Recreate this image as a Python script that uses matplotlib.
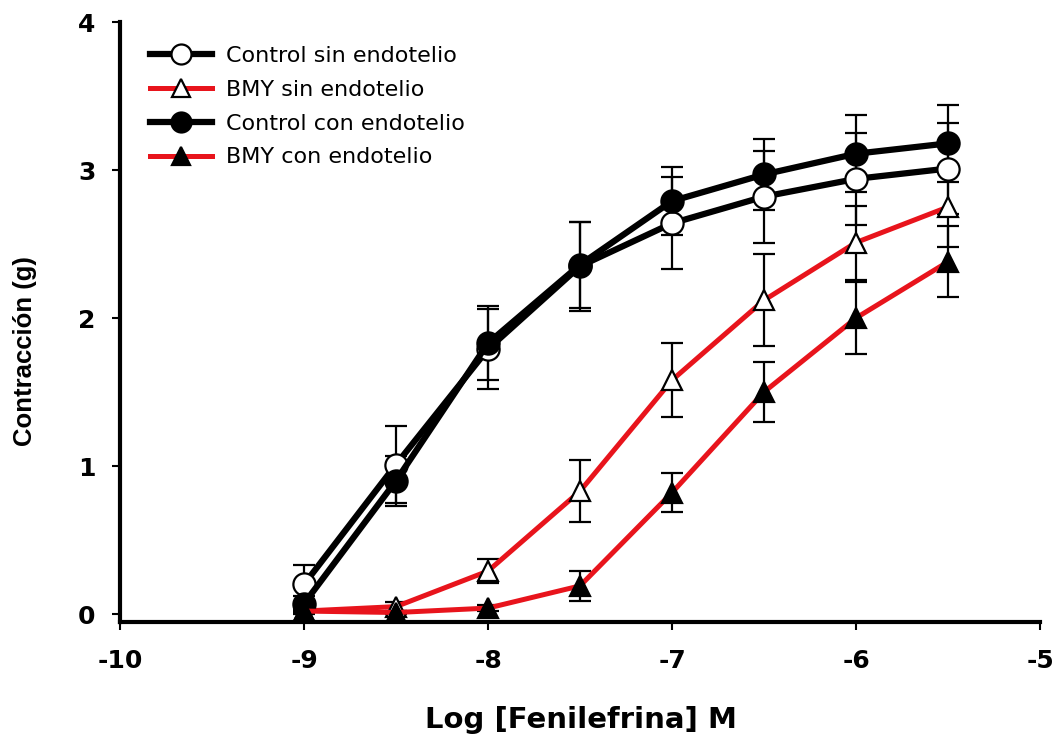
import matplotlib
matplotlib.use("Agg")
import matplotlib.pyplot as plt

plt.rcParams['font.family'] = ['DejaVu Sans']
plt.rcParams['axes.unicode_minus'] = False

# concentraciones (log M)
log_fe = [-9, -8.5, -8, -7.5, -7, -6.5, -6, -5.5]

# contracción media (g) y error estándar
ctrl_sin = [0.20, 1.01, 1.79, 2.35, 2.64, 2.82, 2.94, 3.01]
ctrl_sin_err = [0.13, 0.26, 0.27, 0.30, 0.31, 0.31, 0.31, 0.31]

bmy_sin = [0.02, 0.05, 0.29, 0.83, 1.58, 2.12, 2.51, 2.75]
bmy_sin_err = [0.02, 0.03, 0.08, 0.21, 0.25, 0.31, 0.25, 0.27]

ctrl_con = [0.07, 0.90, 1.83, 2.36, 2.79, 2.97, 3.11, 3.18]
ctrl_con_err = [0.05, 0.17, 0.25, 0.29, 0.23, 0.24, 0.26, 0.26]

bmy_con = [0.02, 0.01, 0.04, 0.19, 0.82, 1.50, 2.00, 2.38]
bmy_con_err = [0.01, 0.01, 0.02, 0.10, 0.13, 0.20, 0.24, 0.24]

series = [
    ("Control sin endotelio", ctrl_sin, ctrl_sin_err, 'black', 'o', 'white'),
    ("BMY sin endotelio", bmy_sin, bmy_sin_err, '#e8141c', '^', 'white'),
    ("Control con endotelio", ctrl_con, ctrl_con_err, 'black', 'o', 'black'),
    ("BMY con endotelio", bmy_con, bmy_con_err, '#e8141c', '^', 'black'),
]

W, H = 1058, 744
fig = plt.figure(figsize=(W / 100, H / 100), dpi=100)
ax = fig.add_axes([120 / W, 1 - 622 / H, 920 / W, 600 / H])

# barras de error primero, debajo de las curvas
for i, (nombre, y, err, color, mk, fc) in enumerate(series):
    ax.errorbar(log_fe, y, yerr=err, fmt='none', ecolor='black',
                elinewidth=1.6, capsize=8, capthick=1.6, zorder=2 + i)
for i, (nombre, y, err, color, mk, fc) in enumerate(series):
    lw = 4.5 if color == 'black' else 3.6
    ms = 16 if mk == 'o' else 15
    ax.plot(log_fe, y, color=color, lw=lw, marker=mk, ms=ms,
            mfc=fc, mec='black', mew=1.6, label=nombre, zorder=6 + i)

ax.set_xlim(-10, -5)
ax.set_ylim(-0.054, 4)
ax.set_xticks([-10, -9, -8, -7, -6, -5])
ax.set_yticks([0, 1, 2, 3, 4])

for s in ['top', 'right']:
    ax.spines[s].set_visible(False)
for s in ['left', 'bottom']:
    ax.spines[s].set_linewidth(3)

ax.tick_params(direction='out', length=5.5, width=1.5)
ax.tick_params(axis='x', pad=14)
ax.tick_params(axis='y', pad=12)
for lab in ax.get_xticklabels() + ax.get_yticklabels():
    lab.set_fontsize(18)
    lab.set_fontweight('bold')

fig.text(581 / W, 1 - 720 / H, "Log [Fenilefrina] M", fontsize=21,
         fontweight='bold', ha='center', va='center')
fig.text(25 / W, 1 - 351 / H, "Contracción (g)", fontsize=18.5,
         fontweight='bold', family='Liberation Sans', rotation=90,
         ha='center', va='center')

ax.legend(loc='upper left', bbox_to_anchor=(150 / W, 1 - 46 / H),
          bbox_transform=fig.transFigure, frameon=False, borderpad=0,
          borderaxespad=0, fontsize=16, handlelength=2.8,
          handletextpad=0.6, labelspacing=0.62, markerscale=0.9)

fig.savefig("out.png", dpi=100)
